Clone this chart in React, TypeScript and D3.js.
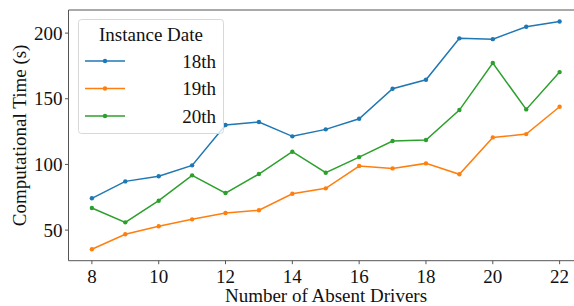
import React from "react";
import * as d3 from "d3";

const drivers = [8, 9, 10, 11, 12, 13, 14, 15, 16, 17, 18, 19, 20, 21, 22];
const series18 = [74.2, 87.1, 91, 99.3, 130, 132.3, 121.4, 126.7, 134.8, 157.6, 164.5, 196, 195.4, 204.8, 208.9];
const series19 = [35.4, 46.8, 52.9, 58.2, 63, 65.1, 77.7, 81.8, 98.8, 97, 100.8, 92.5, 120.6, 123.1, 143.9];
const series20 = [66.8, 55.9, 72.4, 91.7, 78.2, 92.7, 109.7, 93.7, 105.6, 117.8, 118.6, 141.4, 177.2, 141.9, 170.3];
const seriesNames = ["18th", "19th", "20th"];
const seriesColors = ["#1f77b4", "#ff7f0e", "#2ca02c"];
const xTicks = [8, 10, 12, 14, 16, 18, 20, 22];
const yTicks = [50, 100, 150, 200];

const W = 574;
const H = 306;
const m = { left: 68.5, top: 10, right: 583, bottom: 260.7 };
const font = "'Liberation Serif', 'Times New Roman', serif";

export default function App() {
  const x = d3.scaleLinear().domain([7.3, 22.7]).range([m.left, m.right]);
  const y = d3.scaleLinear().domain([26.7, 217.6]).range([m.bottom, m.top]);
  const line = d3
    .line<number>()
    .x((_, i) => x(drivers[i]))
    .y((d) => y(d));
  const all = [series18, series19, series20];
  const spine = "#555";
  return (
    <svg
      width={W}
      height={H}
      style={{ position: "absolute", left: 0, top: 0, display: "block" }}
      fontFamily={font}
    >
      <rect width={W} height={H} fill="#fff" />
      <defs>
        <clipPath id="plot">
          <rect x={m.left} y={m.top} width={m.right - m.left} height={m.bottom - m.top} />
        </clipPath>
      </defs>
      <g clipPath="url(#plot)">
        {all.map((s, k) => (
          <g key={k}>
            <path d={line(s) || ""} fill="none" stroke={seriesColors[k]} strokeWidth={1.5} />
            {s.map((v, i) => (
              <circle key={i} cx={x(drivers[i])} cy={y(v)} r={2.2} fill={seriesColors[k]} />
            ))}
          </g>
        ))}
      </g>
      {/* spines */}
      <line x1={m.left} x2={m.left} y1={m.top} y2={m.bottom} stroke={spine} strokeWidth={1} />
      <line x1={m.left} x2={m.right} y1={m.bottom} y2={m.bottom} stroke={spine} strokeWidth={1} />
      <line x1={m.left} x2={m.right} y1={m.top} y2={m.top} stroke={spine} strokeWidth={1} />
      <line x1={m.right} x2={m.right} y1={m.top} y2={m.bottom} stroke={spine} strokeWidth={1} />
      {/* x ticks */}
      {xTicks.map((t) => (
        <g key={t}>
          <line x1={x(t)} x2={x(t)} y1={m.bottom} y2={m.bottom + 3.5} stroke={spine} />
          <text x={x(t)} y={m.bottom + 22} textAnchor="middle" fontSize={19} fill="#111">
            {t}
          </text>
        </g>
      ))}
      {yTicks.map((t) => (
        <g key={t}>
          <line x1={m.left - 3.5} x2={m.left} y1={y(t)} y2={y(t)} stroke={spine} />
          <text x={m.left - 6} y={y(t) + 6.5} textAnchor="end" fontSize={19} fill="#111">
            {t}
          </text>
        </g>
      ))}
      <text x={326} y={302} textAnchor="middle" fontSize={19} fill="#111">
        Number of Absent Drivers
      </text>
      <text
        transform={`translate(26,${(m.top + m.bottom) / 2}) rotate(-90)`}
        textAnchor="middle"
        fontSize={19}
        fill="#111"
      >
        Computational Time (s)
      </text>
      {/* legend */}
      <rect x={78.5} y={19.5} width={145} height={114} rx={3} fill="#fff" fillOpacity={0.8} stroke="#d8d8d8" />
      <text x={151} y={41} textAnchor="middle" fontSize={19} fill="#111">
        Instance Date
      </text>
      {seriesNames.map((n, k) => {
        const ly = 61 + k * 27.5;
        return (
          <g key={n}>
            <line x1={85} x2={125} y1={ly} y2={ly} stroke={seriesColors[k]} strokeWidth={1.5} />
            <circle cx={105} cy={ly} r={2.2} fill={seriesColors[k]} />
            <text x={216} y={ly + 6.5} textAnchor="end" fontSize={19} fill="#111">
              {n}
            </text>
          </g>
        );
      })}
    </svg>
  );
}
